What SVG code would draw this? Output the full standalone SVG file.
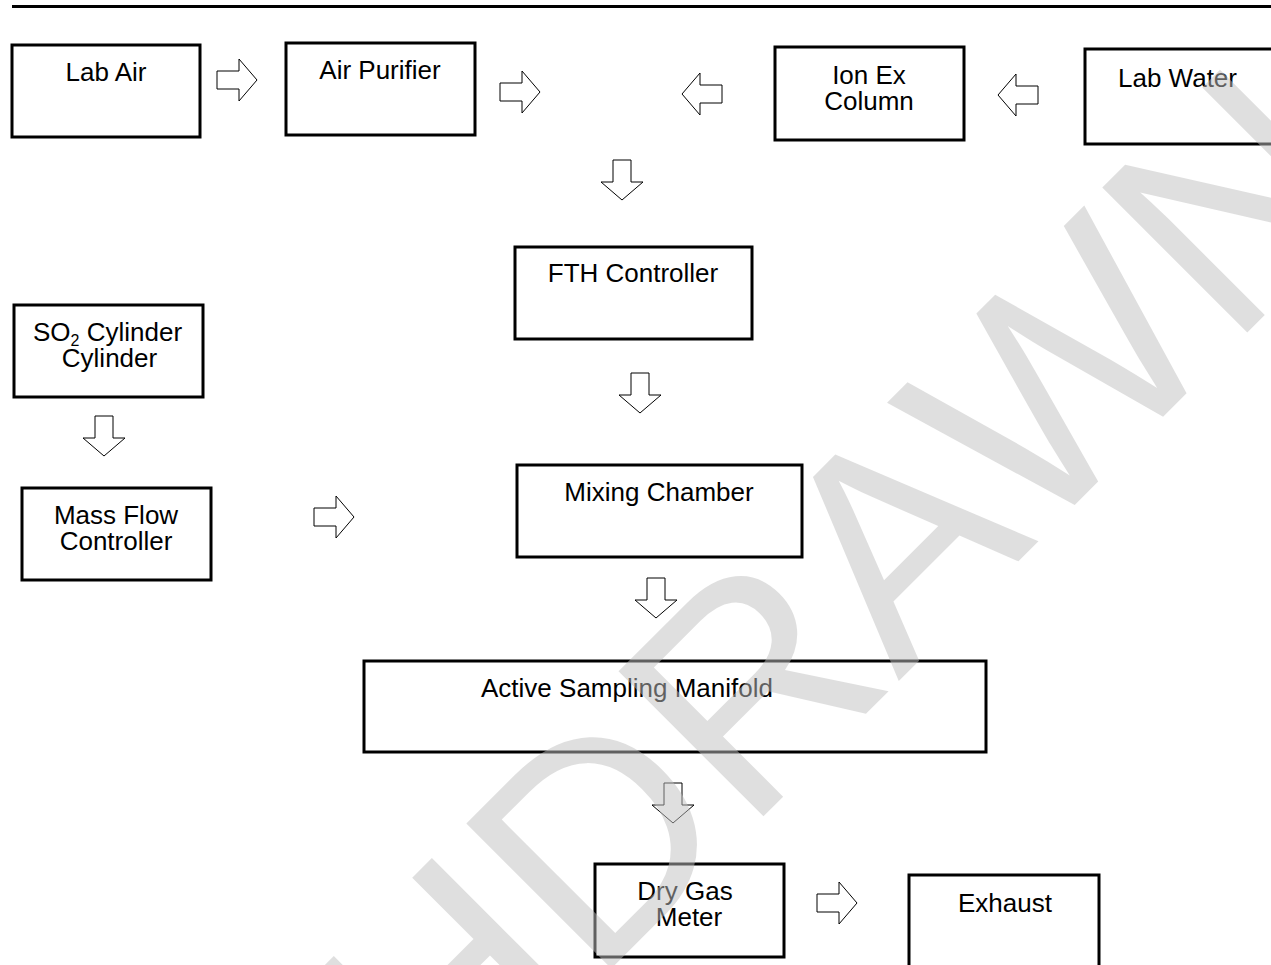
<svg xmlns="http://www.w3.org/2000/svg" width="1271" height="965" viewBox="0 0 1271 965">
<style>
.box{fill:#fff;stroke:#000;stroke-width:3}
.lbl{font-family:"Liberation Sans",Arial,sans-serif;font-size:26px;fill:#000}
.c{text-anchor:middle}
.arr{fill:#fff;stroke:#000;stroke-width:1}
.wm{font-family:"Liberation Sans",Arial,sans-serif;font-size:298px;fill:#bfbfbf;fill-opacity:0.5}
</style>
<defs>
<path id="arrow" d="M0,-9 H22 V-21 L40,0 L22,21 V9 H0 Z"/>
</defs>
<rect width="1271" height="965" fill="#fff"/>
<line x1="12" y1="6.5" x2="1271" y2="6.5" stroke="#000" stroke-width="3"/>

<g id="lab-air"><rect class="box" x="12" y="45" width="188" height="92"/><text class="lbl c" x="106" y="81">Lab Air</text></g>
<g id="air-purifier"><rect class="box" x="286" y="43" width="189" height="92"/><text class="lbl c" x="380" y="79">Air Purifier</text></g>
<g id="ion-ex-column"><rect class="box" x="775" y="47" width="189" height="93"/><text class="lbl c" x="869" y="84">Ion Ex</text><text class="lbl c" x="869" y="110">Column</text></g>
<g id="lab-water"><rect class="box" x="1085" y="49" width="200" height="95"/><text class="lbl" x="1118" y="87">Lab Water</text></g>
<g id="fth-controller"><rect class="box" x="515" y="247" width="237" height="92"/><text class="lbl c" x="633" y="282">FTH Controller</text></g>
<g id="so2-cylinder"><rect class="box" x="14" y="305" width="189" height="92"/><text class="lbl" x="33" y="341">SO<tspan font-size="16" dy="5">2</tspan><tspan dy="-5"> Cylinder</tspan></text><text class="lbl c" x="109.5" y="367">Cylinder</text></g>
<g id="mass-flow-controller"><rect class="box" x="22" y="488" width="189" height="92"/><text class="lbl c" x="116" y="524">Mass Flow</text><text class="lbl c" x="116" y="550">Controller</text></g>
<g id="mixing-chamber"><rect class="box" x="517" y="465" width="285" height="92"/><text class="lbl c" x="659" y="501">Mixing Chamber</text></g>
<g id="active-sampling-manifold"><rect class="box" x="364" y="661" width="622" height="91"/><text class="lbl c" x="627" y="697">Active Sampling Manifold</text></g>
<g id="dry-gas-meter"><rect class="box" x="595" y="864" width="189" height="93"/><text class="lbl c" x="685" y="900">Dry Gas</text><text class="lbl c" x="689" y="926">Meter</text></g>
<g id="exhaust"><rect class="box" x="909" y="875" width="190" height="100"/><text class="lbl c" x="1005" y="912">Exhaust</text></g>

<g id="connectors">
<use href="#arrow" class="arr" transform="translate(217,80)"/>
<use href="#arrow" class="arr" transform="translate(500,92)"/>
<use href="#arrow" class="arr" transform="translate(722,94) rotate(180)"/>
<use href="#arrow" class="arr" transform="translate(1038,95) rotate(180)"/>
<use href="#arrow" class="arr" transform="translate(622,160) rotate(90)"/>
<use href="#arrow" class="arr" transform="translate(640,373) rotate(90)"/>
<use href="#arrow" class="arr" transform="translate(104,416) rotate(90)"/>
<use href="#arrow" class="arr" transform="translate(314,517)"/>
<use href="#arrow" class="arr" transform="translate(656,578) rotate(90)"/>
<use href="#arrow" class="arr" transform="translate(673,783) rotate(90)"/>
<use href="#arrow" class="arr" transform="translate(817,903)"/>
</g>

<g id="watermark"><text class="wm" transform="translate(55.7,1524.1) rotate(-45)">WITHDRAWN</text></g>
</svg>
